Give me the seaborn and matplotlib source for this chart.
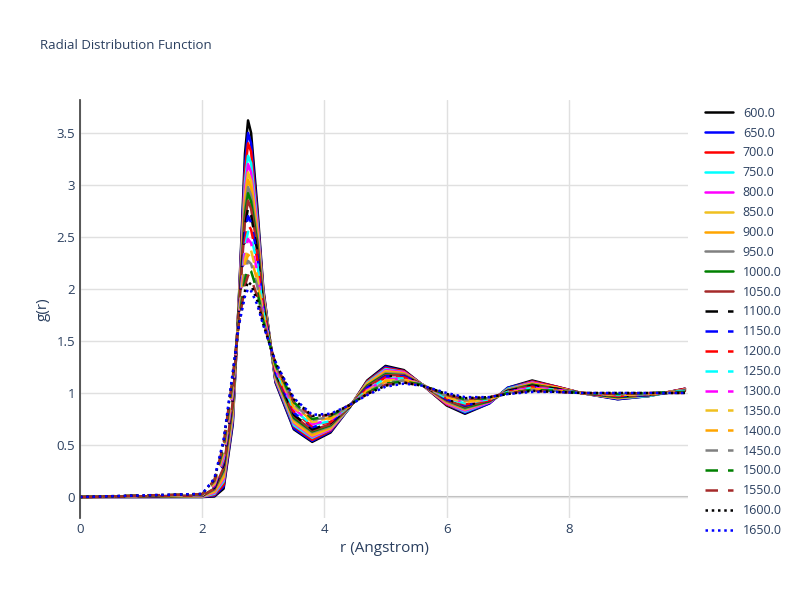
import matplotlib
matplotlib.use("Agg")
import matplotlib.pyplot as plt
import seaborn as sns
import numpy as np
from matplotlib.ticker import FuncFormatter

temperatures = [600,650,700,750,800,850,900,950,1000,1050,1100,1150,1200,1250,1300,1350,1400,1450,1500,1550,1600,1650]
r_values = [0,2.0,2.2,2.35,2.5,2.6,2.7,2.75,2.8,2.9,3.0,3.2,3.5,3.8,4.1,4.4,4.7,5.0,5.3,5.6,6.0,6.3,6.7,7.0,7.4,7.8,8.2,8.8,9.3,9.9]
g_600 = [0,.000,.005,.08,.70,1.90,3.30,3.62,3.50,2.80,2.00,1.10,.65,.53,.62,.85,1.12,1.26,1.22,1.08,.88,.80,.90,1.05,1.12,1.06,1.00,.94,.97,1.04]
g_650 = [0,.001,.013,.10,.72,1.89,3.20,3.50,3.40,2.74,1.98,1.11,.66,.54,.63,.85,1.11,1.25,1.21,1.08,.89,.81,.90,1.05,1.11,1.06,1.00,.94,.97,1.04]
g_700 = [0,.003,.02,.12,.75,1.88,3.12,3.40,3.32,2.70,1.97,1.12,.68,.55,.64,.85,1.11,1.24,1.21,1.08,.89,.82,.91,1.04,1.11,1.06,1.00,.95,.97,1.04]
g_750 = [0,.004,.03,.15,.77,1.86,3.03,3.28,3.21,2.66,1.95,1.13,.69,.57,.65,.85,1.10,1.23,1.20,1.08,.90,.82,.91,1.04,1.10,1.05,1.00,.95,.97,1.03]
g_800 = [0,.006,.04,.17,.80,1.85,2.96,3.20,3.12,2.62,1.93,1.14,.71,.58,.65,.86,1.09,1.22,1.20,1.08,.90,.83,.91,1.03,1.10,1.05,1.00,.95,.98,1.03]
g_850 = [0,.007,.05,.19,.82,1.84,2.89,3.12,3.04,2.57,1.92,1.15,.72,.59,.66,.86,1.09,1.21,1.19,1.08,.91,.84,.92,1.03,1.09,1.05,1.00,.95,.98,1.03]
g_900 = [0,.009,.06,.21,.84,1.83,2.83,3.05,2.97,2.53,1.90,1.16,.74,.60,.67,.86,1.08,1.20,1.19,1.08,.91,.85,.92,1.03,1.09,1.05,1.00,.96,.98,1.03]
g_950 = [0,.010,.07,.24,.87,1.82,2.77,2.98,2.90,2.49,1.88,1.17,.75,.62,.68,.86,1.07,1.19,1.18,1.08,.92,.85,.92,1.03,1.08,1.04,1.00,.96,.98,1.03]
g_1000 = [0,.011,.08,.26,.89,1.81,2.72,2.92,2.84,2.45,1.87,1.18,.76,.63,.69,.86,1.07,1.18,1.17,1.08,.93,.86,.92,1.02,1.08,1.04,1.00,.96,.98,1.02]
g_1050 = [0,.013,.08,.28,.91,1.79,2.66,2.85,2.77,2.41,1.85,1.19,.78,.64,.70,.86,1.06,1.17,1.17,1.08,.93,.87,.93,1.02,1.07,1.04,1.00,.97,.98,1.02]
g_1100 = [0,.014,.09,.31,.94,1.78,2.60,2.78,2.71,2.37,1.83,1.20,.79,.65,.71,.86,1.05,1.16,1.16,1.08,.94,.88,.93,1.02,1.07,1.04,1.00,.97,.98,1.02]
g_1150 = [0,.016,.10,.33,.96,1.77,2.53,2.70,2.64,2.33,1.82,1.20,.81,.67,.72,.87,1.05,1.16,1.16,1.08,.94,.88,.93,1.01,1.06,1.03,1.00,.97,.98,1.02]
g_1200 = [0,.017,.11,.35,.98,1.76,2.47,2.62,2.57,2.29,1.80,1.21,.82,.68,.72,.87,1.04,1.15,1.15,1.08,.95,.89,.93,1.01,1.06,1.03,1.00,.97,.99,1.02]
g_1250 = [0,.019,.12,.37,1.01,1.75,2.41,2.55,2.50,2.25,1.78,1.22,.84,.69,.73,.87,1.03,1.14,1.14,1.08,.95,.90,.94,1.01,1.05,1.03,1.00,.98,.99,1.02]
g_1300 = [0,.020,.12,.39,1.03,1.73,2.35,2.48,2.44,2.17,1.76,1.23,.85,.70,.74,.87,1.03,1.13,1.14,1.08,.96,.91,.94,1.01,1.05,1.03,1.00,.98,.99,1.01]
g_1350 = [0,.021,.13,.42,1.06,1.72,2.28,2.40,2.37,2.13,1.74,1.24,.86,.72,.75,.87,1.02,1.12,1.13,1.08,.96,.91,.94,1.00,1.04,1.02,1.00,.98,.99,1.01]
g_1400 = [0,.023,.14,.44,1.08,1.71,2.22,2.33,2.30,2.08,1.72,1.25,.88,.73,.76,.87,1.01,1.11,1.12,1.08,.97,.92,.95,1.00,1.04,1.02,1.00,.99,.99,1.01]
g_1450 = [0,.024,.15,.46,1.10,1.70,2.16,2.27,2.24,2.03,1.71,1.26,.89,.74,.77,.87,1.01,1.10,1.12,1.08,.97,.93,.95,1.00,1.03,1.02,1.00,.99,.99,1.01]
g_1500 = [0,.026,.16,.48,1.13,1.69,2.09,2.20,2.17,1.98,1.69,1.27,.91,.75,.78,.88,1.00,1.09,1.11,1.08,.98,.94,.95,1.00,1.03,1.02,1.00,.99,1.00,1.01]
g_1550 = [0,.027,.16,.51,1.15,1.67,2.03,2.13,2.10,1.93,1.68,1.28,.92,.77,.79,.88,.99,1.08,1.10,1.07,.98,.94,.96,1.00,1.02,1.01,1.00,.99,1.00,1.00]
g_1600 = [0,.029,.17,.53,1.18,1.66,1.98,2.07,2.04,1.89,1.66,1.29,.94,.78,.79,.88,.99,1.07,1.10,1.07,.99,.95,.96,.99,1.02,1.01,1.00,1.00,1.00,1.00]
g_1650 = [0,.030,.18,.55,1.20,1.65,1.93,2.00,1.98,1.85,1.65,1.30,.95,.79,.80,.88,.98,1.06,1.09,1.07,1.00,.96,.96,.99,1.01,1.01,1.00,1.00,1.00,1.00]
curves = [g_600,g_650,g_700,g_750,g_800,g_850,g_900,g_950,g_1000,g_1050,g_1100,g_1150,
          g_1200,g_1250,g_1300,g_1350,g_1400,g_1450,g_1500,g_1550,g_1600,g_1650]

base_colors = ["black","blue","red","cyan","magenta","#f0c020","orange","gray","green","brown"]
styles = ["-"]*10 + [(0,(5,4))]*10 + [(0,(1,1.5))]*2

sns.set_theme(style="white")
plt.rcParams['font.family'] = ['Open Sans', 'DejaVu Sans']
fig = plt.figure(figsize=(8,6), dpi=100)
ax = fig.add_axes([0.10, 0.137, 0.76, 0.697])
for i, (T, g) in enumerate(zip(temperatures, curves)):
    sns.lineplot(x=r_values, y=g, ax=ax, color=base_colors[i % 10], linestyle=styles[i],
                 linewidth=1.8, label=f"{T:.1f}")
ax.set_xlim(0, 9.95)
ax.set_ylim(-0.2, 3.82)
ax.set_xticks([0,2,4,6,8])
ax.set_yticks(np.arange(0, 3.6, 0.5))
ax.yaxis.set_major_formatter(FuncFormatter(lambda v, p: f"{v:g}"))
ax.grid(True, color="#e0e0e0", linewidth=1)
ax.axhline(0, color="#bbbbbb", linewidth=1.5, zorder=0)
for s in ["top","right","bottom"]:
    ax.spines[s].set_visible(False)
ax.spines["left"].set_color("#444444")
ax.tick_params(axis="both", colors="#2a3f5f", labelsize=9.5, length=0)
ax.set_xlabel("r (Angstrom)", color="#2a3f5f", fontsize=11)
ax.set_ylabel("g(r)", color="#2a3f5f", fontsize=11)
fig.text(0.05, 0.918, "Radial Distribution Function", color="#2a3f5f", fontsize=9.5)
leg = ax.legend(loc="upper left", bbox_to_anchor=(1.01, 1.01), frameon=False, fontsize=9,
                handlelength=2.2, labelspacing=0.55, labelcolor="#2a3f5f")
fig.savefig("out.png", dpi=100)
